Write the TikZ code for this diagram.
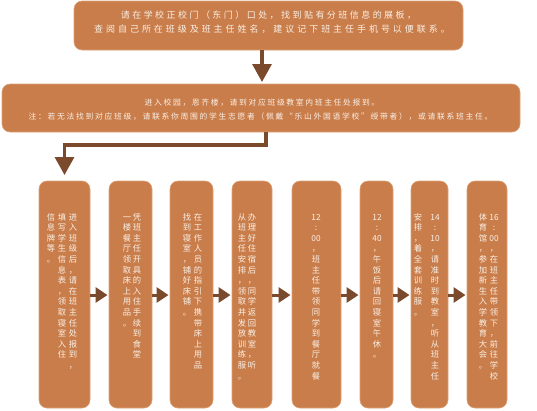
\documentclass[tikz,border=0pt]{standalone}
\usepackage{fontspec}
\setmainfont{Noto Sans CJK SC}
\usetikzlibrary{arrows.meta}
\definecolor{boxfill}{HTML}{C97D4A}
\definecolor{boxline}{HTML}{DDA37A}
\definecolor{arrowc}{HTML}{7B4A2C}
\definecolor{txt}{HTML}{FAF0E6}
\ExplSyntaxOn
\NewDocumentCommand\vtext{m}{
  \vtop{\offinterlineskip
    \tl_map_inline:nn {#1} {\hbox_to_wd:nn{10pt}{\hss\vrule~height~7.8pt~depth~2.8pt~width~0pt ##1\hss}}}
}
\NewDocumentCommand\htext{mm}{
  \tl_map_inline:nn {#2} {\hbox_to_wd:nn{#1}{\hss ##1\hss}}
}
\ExplSyntaxOff
\tikzset{
  panel/.style={draw=boxline, line width=0.6pt, fill=boxfill, rounded corners=8pt},
  vt/.style={anchor=north, inner sep=0pt, text=txt, font=\fontsize{8.3pt}{10pt}\selectfont},
  ht/.style={inner sep=0pt, text=txt},
  flow/.style={draw=arrowc, line width=3pt, -{Triangle[length=12pt,width=15pt]}},
  bigflow/.style={draw=arrowc, line width=3.2pt, -{Triangle[length=18pt,width=19pt]}}
}
\begin{document}
\begin{tikzpicture}[x=1pt,y=-1pt]
\useasboundingbox (0,0) rectangle (537,410);
% top boxes
\path[panel] (74,1) rectangle (463,50);
\node[coordinate] (top) at (268.5,25.5) {};
\node[coordinate] (topS) at (262,50) {};
\path[panel] (2,84) rectangle (520,132);
\node[coordinate] (midN) at (262,84) {};
\node[coordinate] (midS) at (266,132) {};
\node[ht, font=\fontsize{9pt}{11pt}\selectfont] (t1) at (268.5,15.5) {\htext{11.45pt}{请在学校正校门（东门）口处，找到贴有分班信息的展板，}};
\node[ht, font=\fontsize{9pt}{11pt}\selectfont] (t2) at (272,29.5) {\htext{11.95pt}{查阅自己所在班级及班主任姓名，建议记下班主任手机号以便联系。}};
\node[ht, font=\fontsize{7.8pt}{10pt}\selectfont] (m1) at (262,102.7) {\htext{9.45pt}{进入校园，恩齐楼，请到对应班级教室内班主任处报到。}};
\node[ht, font=\fontsize{7.8pt}{10pt}\selectfont] (m2) at (260.5,116.7) {\htext{9.5pt}{注：若无法找到对应班级，请联系你周围的学生志愿者（佩戴“乐山外国语学校”绶带者），或请联系班主任。}};
% columns
\path[panel] (39,181) rectangle (90,408);
\path[panel] (109,181) rectangle (152,408);
\path[panel] (170,181) rectangle (213,408);
\path[panel] (232,181) rectangle (272,408);
\path[panel] (292,181) rectangle (341,408);
\path[panel] (360,181) rectangle (393,408);
\path[panel] (411,181) rectangle (448,408);
\path[panel] (467,181) rectangle (507,408);
\foreach \n/\l/\r in {1/39/90,2/109/152,3/170/213,4/232/272,5/292/341,6/360/393,7/411/448,8/467/507}{
  \node[coordinate] (b\n w) at (\l,295) {};
  \node[coordinate] (b\n e) at (\r,295) {};
}
\node[coordinate] (b1n) at (64.5,181) {};
% texts
\node[vt] (c1a) at (73,212) {\vtext{进入班级后，请在班主任处报到，}};
\node[vt] (c1b) at (62,212) {\vtext{填写学生信息表，领取寝室入住}};
\node[vt] (c1c) at (51,212) {\vtext{信息牌等。}};
\node[vt] (c2a) at (137,212) {\vtext{凭班主任开具的入住手续到食堂}};
\node[vt] (c2b) at (127,212) {\vtext{一楼餐厅领取床上用品。}};
\node[vt] (c3a) at (198,212) {\vtext{在工作人员的指引下携带床上用品}};
\node[vt] (c3b) at (187,212) {\vtext{找到寝室，铺好床铺。}};
\node[vt] (c4a) at (252,212) {\vtext{办理好住宿后，同学返回教室，听}};
\node[vt] (c4b) at (242,212) {\vtext{从班主任安排，领取并发放训练服。}};
\node[vt] (c5a) at (316,212) {\vtext{{12}{:}{00}，班主任带领同学到餐厅就餐}};
\node[vt] (c6a) at (377,212) {\vtext{{12}{:}{40}，午饭后请回寝室午休。}};
\node[vt] (c7a) at (435,212) {\vtext{{14}{:}{10}，请准时到教室，听从班主任}};
\node[vt] (c7b) at (418,212) {\vtext{安排，着全套训练服。}};
\node[vt] (c8a) at (494,212) {\vtext{{16}{:}{00}，在班主任带领下，前往学校}};
\node[vt] (c8b) at (483,212) {\vtext{体育馆，参加新生入学教育大会。}};
% connectors
\draw[bigflow, shorten >=2pt] (topS) -- (midN);
\draw[bigflow, shorten >=6pt] (midS) -- ++(0,13) -| (b1n);
\foreach \a/\b in {1/2,2/3,3/4,4/5,5/6,6/7,7/8}{
  \draw[flow, shorten >=1.5pt] (b\a e) -- (b\b w);
}
\end{tikzpicture}
\end{document}
